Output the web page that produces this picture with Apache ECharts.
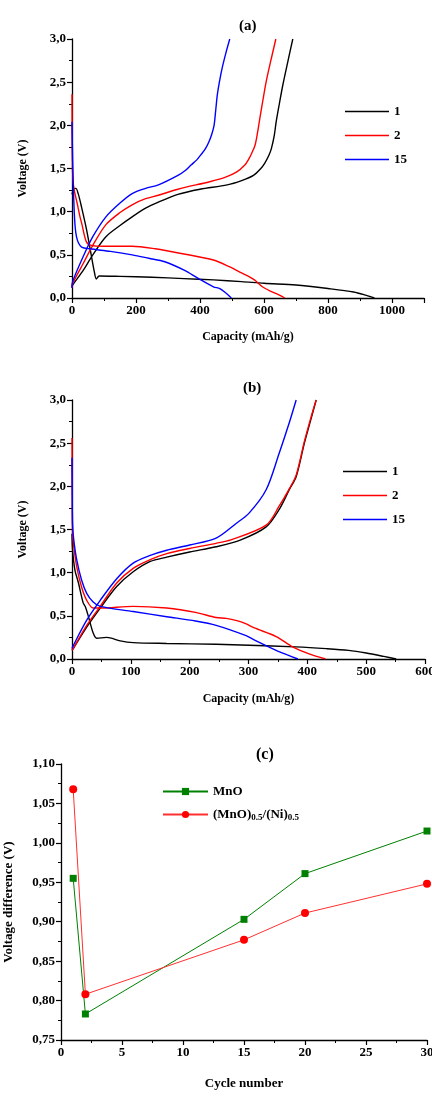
<!DOCTYPE html>
<html>
<head>
<meta charset="utf-8">
<script src="https://cdn.jsdelivr.net/npm/echarts@6/dist/echarts.min.js"></script>
<style>
  html, body { margin: 0; padding: 0; background: #fff; }
  #main { width: 432px; height: 1096px; }
</style>
</head>
<body>
<div id="main"></div>
<script>
// panel (a): [capacity mAh/g, voltage V]
var aDischarge1 = [[0,1.20],[5,1.26],[12,1.27],[20,1.2],[30,1.05],[45,0.80],[60,0.50],[70,0.30],[76,0.22],[85,0.255],[150,0.25],[250,0.24],[350,0.225],[442,0.21],[530,0.19],[600,0.17],[700,0.15],[800,0.11],[880,0.07],[920,0.03],[945,0]]
var aCharge1 = [[0,0.12],[2,0.15],[35,0.32],[65,0.50],[106,0.71],[150,0.84],[188,0.94],[230,1.04],[270,1.11],[331,1.20],[400,1.26],[485,1.31],[530,1.36],[567,1.42],[590,1.50],[602,1.56],[615,1.65],[623,1.73],[632,1.88],[638,2.04],[648,2.25],[659,2.47],[674,2.73],[690,3.0]]
var aDischarge2 = [[0,2.36],[1,1.6],[3,1.37],[7,1.25],[16,1.10],[25,0.94],[30,0.87],[45,0.65],[60,0.61],[100,0.60],[188,0.60],[260,0.57],[350,0.51],[442,0.44],[493,0.36],[530,0.29],[570,0.21],[595,0.13],[620,0.08],[645,0.04],[665,0]]
var aCharge2 = [[0,0.12],[2,0.17],[35,0.40],[65,0.61],[106,0.85],[150,0.99],[188,1.08],[230,1.15],[270,1.19],[331,1.26],[433,1.35],[480,1.40],[515,1.46],[540,1.54],[551,1.60],[562,1.68],[572,1.77],[580,1.92],[587,2.08],[597,2.30],[607,2.51],[622,2.76],[637,3.0]]
var aDischarge15 = [[0,2.04],[2,1.6],[4,1.3],[7,1.0],[10,0.82],[14,0.71],[20,0.64],[30,0.59],[55,0.57],[120,0.54],[188,0.50],[240,0.46],[290,0.42],[352,0.32],[393,0.23],[442,0.13],[462,0.11],[480,0.06],[498,0]]
var aCharge15 = [[0,0.12],[2,0.19],[35,0.48],[65,0.71],[106,0.94],[150,1.10],[188,1.21],[230,1.27],[270,1.31],[331,1.42],[355,1.48],[372,1.54],[390,1.60],[403,1.66],[417,1.73],[428,1.81],[437,1.90],[444,2.00],[449,2.17],[454,2.35],[461,2.51],[469,2.66],[481,2.84],[493,3.0]]

// panel (b)
var bDischarge1 = [[0,1.45],[1,1.26],[5,1.03],[11,0.88],[19,0.65],[23,0.6],[28,0.49],[36,0.30],[42,0.24],[59,0.25],[82,0.21],[104,0.19],[161,0.18],[245,0.17],[301,0.16],[380,0.14],[432,0.12],[470,0.10],[500,0.07],[530,0.03],[551,0]]
var bCharge1 = [[0,0.10],[1,0.11],[25,0.37],[48,0.59],[76,0.84],[104,1.01],[133,1.13],[161,1.18],[200,1.24],[245,1.30],[287,1.38],[330,1.53],[352,1.73],[370,1.97],[381,2.11],[395,2.50],[405,2.75],[415,3.0]]
var bDischarge2 = [[0,2.56],[0.5,1.84],[1,1.45],[3,1.30],[8,1.07],[16,0.84],[25,0.68],[36,0.59],[48,0.59],[104,0.61],[161,0.59],[210,0.54],[245,0.48],[262,0.47],[280,0.445],[295,0.41],[310,0.36],[347,0.26],[375,0.14],[403,0.06],[431,0]]
var bCharge2 = [[0,0.10],[1,0.11],[25,0.39],[48,0.61],[76,0.88],[104,1.05],[133,1.15],[161,1.22],[200,1.28],[245,1.34],[270,1.38],[330,1.55],[352,1.77],[370,1.98],[381,2.13],[395,2.52],[405,2.77],[415,3.0]]
var bDischarge15 = [[0,2.33],[0.5,1.8],[1,1.55],[3,1.38],[8,1.15],[16,0.92],[25,0.76],[36,0.66],[48,0.61],[104,0.55],[161,0.49],[210,0.44],[245,0.39],[296,0.27],[313,0.21],[347,0.10],[365,0.05],[384,0]]
var bCharge15 = [[0,0.12],[1,0.14],[25,0.45],[48,0.68],[76,0.93],[104,1.11],[133,1.20],[161,1.26],[200,1.32],[245,1.40],[279,1.57],[301,1.69],[330,1.96],[352,2.38],[369,2.73],[381,3.0]]

// panel (c)
var cycles = [1, 2, 15, 20, 30]
var mnoDiff = [0.955, 0.783, 0.903, 0.961, 1.015]
var mnoNiDiff = [1.068, 0.808, 0.877, 0.911, 0.948]

var FONT = 'Liberation Serif'
var cycleColors = { '1': '#000000', '2': '#ff0000', '15': '#0000ff' }

function comma (digits) {
  return function (v) { return v.toFixed(digits).replace('.', ',') }
}

function plain (v) { return String(v) }

function axis (gridIndex, name, min, max, interval, fmt, nameGap, nameSize) {
  return {
    type: 'value',
    gridIndex: gridIndex,
    name: name,
    nameLocation: 'middle',
    nameGap: nameGap,
    nameTextStyle: { fontFamily: FONT, fontWeight: 'bold', fontSize: nameSize || 12, color: '#000' },
    min: min,
    max: max,
    interval: interval,
    axisLine: { show: true, onZero: false, lineStyle: { color: '#000', width: 1.3 } },
    axisTick: { show: true, inside: false, length: 5, lineStyle: { color: '#000', width: 1.2 } },
    minorTick: { show: true, splitNumber: 2, length: 3, lineStyle: { color: '#000', width: 1 } },
    splitLine: { show: false },
    minorSplitLine: { show: false },
    axisLabel: {
      fontFamily: FONT, fontWeight: 'bold', fontSize: 13, color: '#000', margin: 6,
      showMaxLabel: max !== 1100,
      formatter: fmt
    }
  }
}

function curve (name, data, idx) {
  return {
    name: name,
    type: 'line',
    xAxisIndex: idx,
    yAxisIndex: idx,
    data: data,
    symbol: 'none',
    smooth: 0.3,
    lineStyle: { color: cycleColors[name], width: 1.4 },
    itemStyle: { color: cycleColors[name] }
  }
}

function cycleLegend (left, top) {
  return {
    data: ['1', '2', '15'],
    orient: 'vertical',
    left: left,
    top: top,
    icon: 'rect',
    itemWidth: 44,
    itemHeight: 1.6,
    itemGap: 11,
    selectedMode: false,
    textStyle: { fontFamily: FONT, fontWeight: 'bold', fontSize: 13, color: '#000' }
  }
}

var chart = echarts.init(document.getElementById('main'))
var option = {
  backgroundColor: '#fff',
  animation: false,
  title: [
    { text: '(a)', left: 234, top: 14, textStyle: { fontFamily: FONT, fontWeight: 'bold', fontSize: 15, color: '#000' } },
    { text: '(b)', left: 238, top: 376, textStyle: { fontFamily: FONT, fontWeight: 'bold', fontSize: 15, color: '#000' } },
    { text: '(c)', left: 251, top: 742, textStyle: { fontFamily: FONT, fontWeight: 'bold', fontSize: 16, color: '#000' } }
  ],
  legend: [
    cycleLegend(340, 100),
    cycleLegend(338, 460),
    {
      data: ['MnO', '(MnO)0.5/(Ni)0.5'],
      orient: 'vertical',
      left: 157,
      top: 780,
      itemWidth: 45,
      itemHeight: 9,
      itemGap: 10,
      selectedMode: false,
      formatter: function (n) {
        if (n === 'MnO') return 'MnO'
        return '(MnO){sub|0.5}/(Ni){sub|0.5}'
      },
      textStyle: {
        fontFamily: FONT, fontWeight: 'bold', fontSize: 13, color: '#000',
        rich: {
          sub: { fontFamily: FONT, fontWeight: 'bold', fontSize: 9, color: '#000', verticalAlign: 'bottom', padding: [6, 0, 0, 0] }
        }
      }
    }
  ],
  grid: [
    { left: 72, top: 39, width: 352, height: 259, outerBoundsMode: 'none' },
    { left: 72, top: 400, width: 353, height: 259, outerBoundsMode: 'none' },
    { left: 61, top: 764, width: 366, height: 276, outerBoundsMode: 'none' }
  ],
  xAxis: [
    axis(0, 'Capacity (mAh/g)', 0, 1100, 200, plain, 33),
    axis(1, 'Capacity (mAh/g)', 0, 600, 100, plain, 34),
    axis(2, 'Cycle number', 0, 30, 5, plain, 37, 13)
  ],
  yAxis: [
    axis(0, 'Voltage (V)', 0, 3, 0.5, comma(1), 43),
    axis(1, 'Voltage (V)', 0, 3, 0.5, comma(1), 43),
    axis(2, 'Voltage difference (V)', 0.75, 1.10, 0.05, comma(2), 46, 13)
  ],
  series: [
    curve('1', aDischarge1, 0), curve('1', aCharge1, 0),
    curve('2', aDischarge2, 0), curve('2', aCharge2, 0),
    curve('15', aDischarge15, 0), curve('15', aCharge15, 0),
    curve('1', bDischarge1, 1), curve('1', bCharge1, 1),
    curve('2', bDischarge2, 1), curve('2', bCharge2, 1),
    curve('15', bDischarge15, 1), curve('15', bCharge15, 1),
    {
      name: 'MnO',
      type: 'line',
      xAxisIndex: 2,
      yAxisIndex: 2,
      data: cycles.map(function (c, i) { return [c, mnoDiff[i]] }),
      symbol: 'rect',
      symbolSize: 7,
      lineStyle: { color: '#008000', width: 1 },
      itemStyle: { color: '#008000' }
    },
    {
      name: '(MnO)0.5/(Ni)0.5',
      type: 'line',
      xAxisIndex: 2,
      yAxisIndex: 2,
      data: cycles.map(function (c, i) { return [c, mnoNiDiff[i]] }),
      symbol: 'circle',
      symbolSize: 8,
      lineStyle: { color: '#ff3030', width: 1 },
      itemStyle: { color: '#ff0000' }
    }
  ]
}
chart.setOption(option)
</script>
</body>
</html>
